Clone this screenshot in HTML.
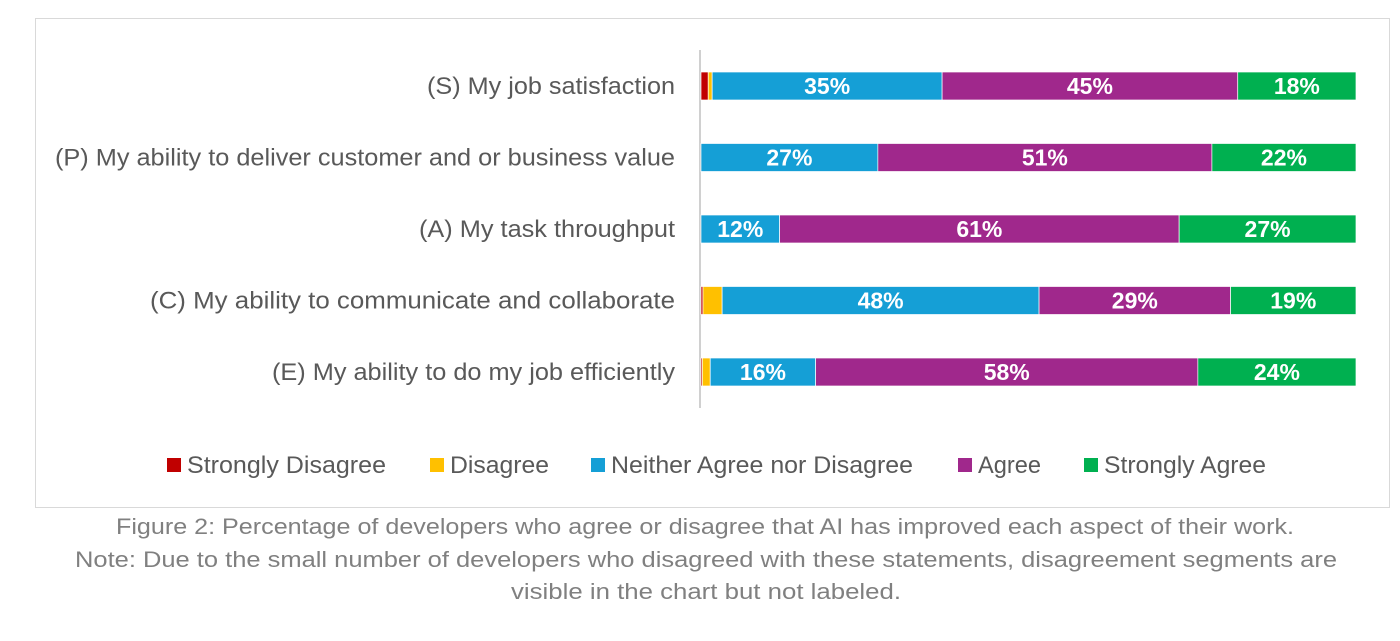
<!DOCTYPE html>
<html><head><meta charset="utf-8"><style>
body{margin:0;background:#fff;width:1400px;height:636px;overflow:hidden;font-family:"Liberation Sans",sans-serif}
</style></head><body>
<svg width="1400" height="636">
<rect x="35.5" y="18.5" width="1354" height="489" fill="#fff" stroke="#d9d9d9"/>
<line x1="700" y1="50" x2="700" y2="408" stroke="#d0d0d0" stroke-width="2"/>
<g id="bars"></g>
<g id="legend"></g>
<g font-size="22" fill="#808080">
<text x="116" y="534" textLength="1178" lengthAdjust="spacingAndGlyphs">Figure 2: Percentage of developers who agree or disagree that AI has improved each aspect of their work.</text>
<text x="75" y="567" textLength="1262" lengthAdjust="spacingAndGlyphs">Note: Due to the small number of developers who disagreed with these statements, disagreement segments are</text>
<text x="511" y="599" textLength="390" lengthAdjust="spacingAndGlyphs">visible in the chart but not labeled.</text>
</g>
</svg>
<script>
const categories=["(S) My job satisfaction","(P) My ability to deliver customer and or business value","(A) My task throughput","(C) My ability to communicate and collaborate","(E) My ability to do my job efficiently"];
const seriesNames=["Strongly Disagree","Disagree","Neither Agree nor Disagree","Agree","Strongly Agree"];
const strongDisagree=[1.1,0,0,0.3,0.2];
const disagree=[0.6,0,0,2.9,1.2];
const neither=[35,27,12,48,16];
const agree=[45,51,61,29,58];
const strongAgree=[18,22,27,19,24];
const colors=["#c00000","#ffc000","#159fd6","#a0288c","#00b050"];
const series=[strongDisagree,disagree,neither,agree,strongAgree];
const labelWidths=[248,620,256,525,403];
const legendWidths=[199,99,302,63,162];
const ns="http://www.w3.org/2000/svg";
const x0=701,x1=1356,yTop=86,yStep=71.5,bh=28;
const xScale=(v,total)=>v/total*(x1-x0);
const yPos=i=>yTop+i*yStep;
const g=document.getElementById('bars');
categories.forEach((c,i)=>{
  const t=document.createElementNS(ns,'text');
  
  
  t.setAttribute('x',675);t.setAttribute('y',yPos(i)+8);t.setAttribute('text-anchor','end');
  t.setAttribute('font-size','24');t.setAttribute('fill','#595959');
  t.setAttribute('textLength',labelWidths[i]);t.setAttribute('lengthAdjust','spacingAndGlyphs');
  t.textContent=c;g.appendChild(t);
  const total=series.reduce((s,a)=>s+a[i],0);
  let x=x0;
  series.forEach((arr,k)=>{
    const w=xScale(arr[i],total);
    if(w<=0)return;
    const r=document.createElementNS(ns,'rect');
    
    
    r.setAttribute('x',x);r.setAttribute('y',yPos(i)-bh/2);r.setAttribute('width',w);r.setAttribute('height',bh);
    r.setAttribute('fill',colors[k]);r.setAttribute('stroke','#fff');r.setAttribute('stroke-width','0.7');g.appendChild(r);
    if(k>=2){
      const l=document.createElementNS(ns,'text');
      
      
      l.setAttribute('x',x+w/2);l.setAttribute('y',yPos(i)+8);l.setAttribute('text-anchor','middle');
      l.setAttribute('font-size','23');l.setAttribute('font-weight','bold');l.setAttribute('fill','#fff');l.textContent=arr[i]+'%';g.appendChild(l);
    }
    x+=w;
  });
});
const lg=document.getElementById('legend');
const lx=[167,430,591,958,1084];
seriesNames.forEach((n,k)=>{
  const r=document.createElementNS(ns,'rect');
  
  
  r.setAttribute('x',lx[k]);r.setAttribute('y',458);r.setAttribute('width',14);r.setAttribute('height',14);r.setAttribute('fill',colors[k]);lg.appendChild(r);
  const t=document.createElementNS(ns,'text');
  
  
  t.setAttribute('x',lx[k]+20);t.setAttribute('y',473);t.setAttribute('font-size','24');t.setAttribute('fill','#595959');
  t.setAttribute('textLength',legendWidths[k]);t.setAttribute('lengthAdjust','spacingAndGlyphs');
  t.textContent=n;lg.appendChild(t);
});
</script>
</body></html>
